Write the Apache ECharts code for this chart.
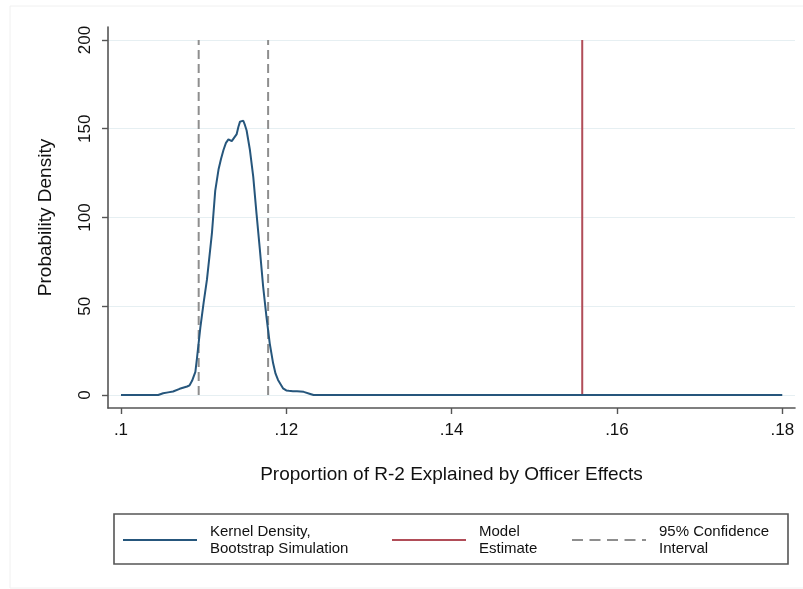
<!DOCTYPE html>
<html>
<head>
<meta charset="utf-8">
<script src="https://cdn.jsdelivr.net/npm/echarts@6/dist/echarts.min.js"></script>
<style>
  html, body { margin: 0; padding: 0; background: #fff; }
  #chart { width: 803px; height: 589px; }
</style>
</head>
<body>
<div id="chart"></div>
<script>
// Kernel density of the bootstrapped share of R-2 explained by officer effects
const densX = [0.1000, 0.1045, 0.1051, 0.1057, 0.1063, 0.1071, 0.1080, 0.1083, 0.1086, 0.1090,
               0.1092, 0.1096, 0.1100, 0.1104, 0.1107, 0.1110, 0.1114, 0.1118, 0.1121, 0.1124,
               0.1127, 0.1130, 0.1132, 0.1134, 0.1136, 0.1140, 0.1142, 0.1144, 0.1146, 0.1148,
               0.1150, 0.1152, 0.1156, 0.1160, 0.1164, 0.1168, 0.1172, 0.1176, 0.1180, 0.1184,
               0.1187, 0.1190, 0.1196, 0.1200, 0.1203, 0.1208, 0.1213, 0.1221, 0.1229, 0.1233,
               0.1800];
const densY = [0, 0, 1, 1.5, 2, 3.5, 4.8, 5.5, 8, 13,
               21, 38, 52, 65, 78, 91, 115, 127, 133, 138,
               142, 144, 144.5, 143, 142.5, 147, 151, 154, 155, 154.5,
               152, 149, 138, 123, 102, 82, 61, 44, 29, 18,
               12, 8.5, 3.8, 2.6, 2.4, 2.2, 2.1, 1.8, 0.6, 0,
               0];

// Point estimate from the model and the bootstrap 95% interval
const modelEstimate = 0.1558;
const ciLower = 0.1094;
const ciUpper = 0.1178;
const refTop = 200;

// Axis ticks
const xTicks = [0.10, 0.12, 0.14, 0.16, 0.18];
const xTickLabels = ['.1', '.12', '.14', '.16', '.18'];
const yTicks = [0, 50, 100, 150, 200];

const font = '"Liberation Sans", Arial, Helvetica, sans-serif';
const navy = '#26567c';
const maroon = '#b14d58';
const grey = '#8e8e8e';

const densData = densX.map((x, i) => [x, densY[i]]);
const vline = x => [[x, 0], [x, refTop]];

// Legend keys drawn as plain line samples (solid or dashed)
const solidKey = 'path://M0,0h74v2h-74z';
const dashedKey = 'path://M0,0h11v2h-11z M17.5,0h11v2h-11z M35,0h11v2h-11z M52.5,0h11v2h-11z M70,0h4v2h-4z';

const chart = echarts.init(document.getElementById('chart'), null, { renderer: 'canvas' });

function legendItem(name, left, icon) {
  return {
    show: true,
    left: left,
    top: 518,
    orient: 'horizontal',
    data: [{ name: name, icon: icon }],
    selectedMode: false,
    itemWidth: 74,
    itemHeight: 2,
    symbolKeepAspect: false,
    textStyle: {
      fontFamily: font, fontSize: 15, color: '#111', lineHeight: 17,
      padding: [0, 0, 0, 8]
    }
  };
}

chart.setOption({
  animation: false,
  backgroundColor: '#fff',
  grid: { left: 108, right: 8, top: 27, bottom: 181, containLabel: false },
  legend: [
    legendItem('Kernel Density,\nBootstrap Simulation', 118, solidKey),
    legendItem('Model\nEstimate', 387, solidKey),
    legendItem('95% Confidence\nInterval', 567, dashedKey)
  ],
  graphic: [
    { type: 'rect', silent: true, z: -10,
      shape: { x: 10, y: 6, width: 820, height: 582 },
      style: { fill: null, stroke: '#f0f0f0', lineWidth: 1 } },
    { type: 'rect', silent: true,
      shape: { x: 114, y: 514, width: 674, height: 50 },
      style: { fill: null, stroke: '#555', lineWidth: 1.6 } }
  ],
  xAxis: {
    type: 'value',
    min: 0.09843,
    max: 0.18154,
    name: 'Proportion of R-2 Explained by Officer Effects',
    nameLocation: 'middle',
    nameGap: 57,
    nameTextStyle: { fontFamily: font, fontSize: 19, color: '#111' },
    axisLine: { show: true, onZero: false, lineStyle: { color: '#555', width: 1.6 } },
    axisTick: { show: true, length: 6, lineStyle: { color: '#555', width: 1.4 }, customValues: xTicks },
    axisLabel: {
      customValues: xTicks,
      fontFamily: font, fontSize: 17, color: '#111', margin: 14,
      formatter: v => {
        const i = xTicks.findIndex(t => Math.abs(t - v) < 1e-9);
        return i >= 0 ? xTickLabels[i] : '';
      }
    },
    splitLine: { show: false }
  },
  yAxis: {
    type: 'value',
    min: -7.3,
    max: 207.3,
    name: 'Probability Density',
    nameLocation: 'middle',
    nameGap: 53,
    nameRotate: 90,
    nameTextStyle: { fontFamily: font, fontSize: 19, color: '#111' },
    axisLine: { show: true, onZero: false, lineStyle: { color: '#555', width: 1.6 } },
    axisTick: { show: true, length: 6, lineStyle: { color: '#555', width: 1.4 }, customValues: yTicks },
    axisLabel: {
      customValues: yTicks,
      rotate: 90,
      fontFamily: font, fontSize: 17, color: '#111', margin: 14
    },
    splitLine: { show: true, lineStyle: { color: '#e6eff2', width: 1.2 } }
  },
  series: [
    {
      name: 'Kernel Density,\nBootstrap Simulation',
      type: 'line',
      data: densData,
      symbol: 'none',
      lineStyle: { color: navy, width: 2 },
      itemStyle: { color: navy },
      z: 3
    },
    {
      name: 'Model\nEstimate',
      type: 'line',
      data: vline(modelEstimate),
      symbol: 'none',
      lineStyle: { color: maroon, width: 2 },
      itemStyle: { color: maroon },
      z: 2
    },
    {
      name: '95% Confidence\nInterval',
      type: 'line',
      data: vline(ciLower),
      symbol: 'none',
      lineStyle: { color: grey, width: 2, type: [9, 5] },
      itemStyle: { color: grey },
      z: 2
    },
    {
      name: '95% Confidence\nInterval',
      type: 'line',
      data: vline(ciUpper),
      symbol: 'none',
      lineStyle: { color: grey, width: 2, type: [9, 5] },
      itemStyle: { color: grey },
      z: 2
    }
  ]
});
</script>
</body>
</html>
